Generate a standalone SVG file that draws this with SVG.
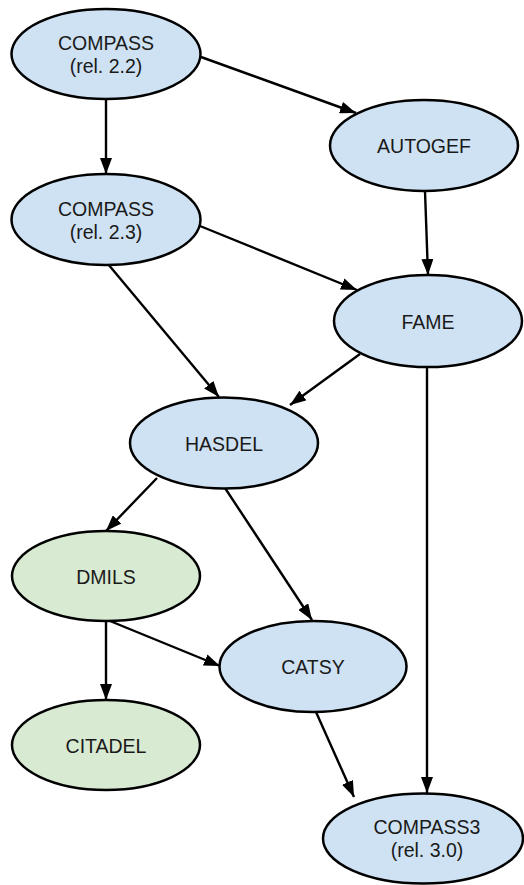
<svg xmlns="http://www.w3.org/2000/svg" width="524" height="885" viewBox="0 0 524 885">
<defs>
<marker id="arr" viewBox="0 0 16 12" refX="16" refY="6" markerWidth="16" markerHeight="12" markerUnits="userSpaceOnUse" orient="auto">
<path d="M0,0 L16,6 L0,12 Z" fill="#000"/>
</marker>
</defs>
<style>
.n ellipse{stroke:#000;stroke-width:2.5}
.b ellipse{fill:#cfe2f3}
.g ellipse{fill:#d9ead3}
text{font-family:"Liberation Sans",Arial,sans-serif;font-size:19.5px;fill:#1a1a1a;text-anchor:middle}
#edges line{stroke:#000;stroke-width:2.4;marker-end:url(#arr)}
</style>
<rect width="524" height="885" fill="#fff"/>
<g id="edges">
<line x1="106" y1="99" x2="106" y2="174"/>
<line x1="201" y1="57" x2="356" y2="113"/>
<line x1="425" y1="191" x2="428" y2="275"/>
<line x1="200" y1="226" x2="357" y2="290"/>
<line x1="108" y1="264" x2="219" y2="397"/>
<line x1="360" y1="354" x2="290" y2="405"/>
<line x1="427" y1="367" x2="427" y2="793"/>
<line x1="157" y1="478" x2="106" y2="531"/>
<line x1="225" y1="488" x2="312" y2="620"/>
<line x1="106" y1="621" x2="106" y2="700"/>
<line x1="110" y1="621" x2="220" y2="666"/>
<line x1="316" y1="712" x2="354" y2="797"/>
</g>
<g id="compass22" class="n b"><ellipse cx="106" cy="54" rx="94.5" ry="45"/><text x="106" y="50">COMPASS</text><text x="106" y="73">(rel. 2.2)</text></g>
<g id="autogef" class="n b"><ellipse cx="424" cy="145.5" rx="94" ry="45.5"/><text x="424" y="153">AUTOGEF</text></g>
<g id="compass23" class="n b"><ellipse cx="106" cy="219.5" rx="94.5" ry="45.5"/><text x="106" y="216">COMPASS</text><text x="106" y="239">(rel. 2.3)</text></g>
<g id="fame" class="n b"><ellipse cx="428" cy="321" rx="94" ry="46"/><text x="428" y="328.5">FAME</text></g>
<g id="hasdel" class="n b"><ellipse cx="224" cy="443" rx="94" ry="45.5"/><text x="224" y="450.5">HASDEL</text></g>
<g id="dmils" class="n g"><ellipse cx="106" cy="576" rx="94" ry="45"/><text x="106" y="583.5">DMILS</text></g>
<g id="catsy" class="n b"><ellipse cx="313" cy="666.5" rx="93.5" ry="45.5"/><text x="313" y="674">CATSY</text></g>
<g id="citadel" class="n g"><ellipse cx="106" cy="745" rx="94" ry="45"/><text x="106" y="752.5">CITADEL</text></g>
<g id="compass3" class="n b"><ellipse cx="423" cy="838.5" rx="100" ry="45"/><text x="427" y="834">COMPASS3</text><text x="427" y="857">(rel. 3.0)</text></g>
</svg>
